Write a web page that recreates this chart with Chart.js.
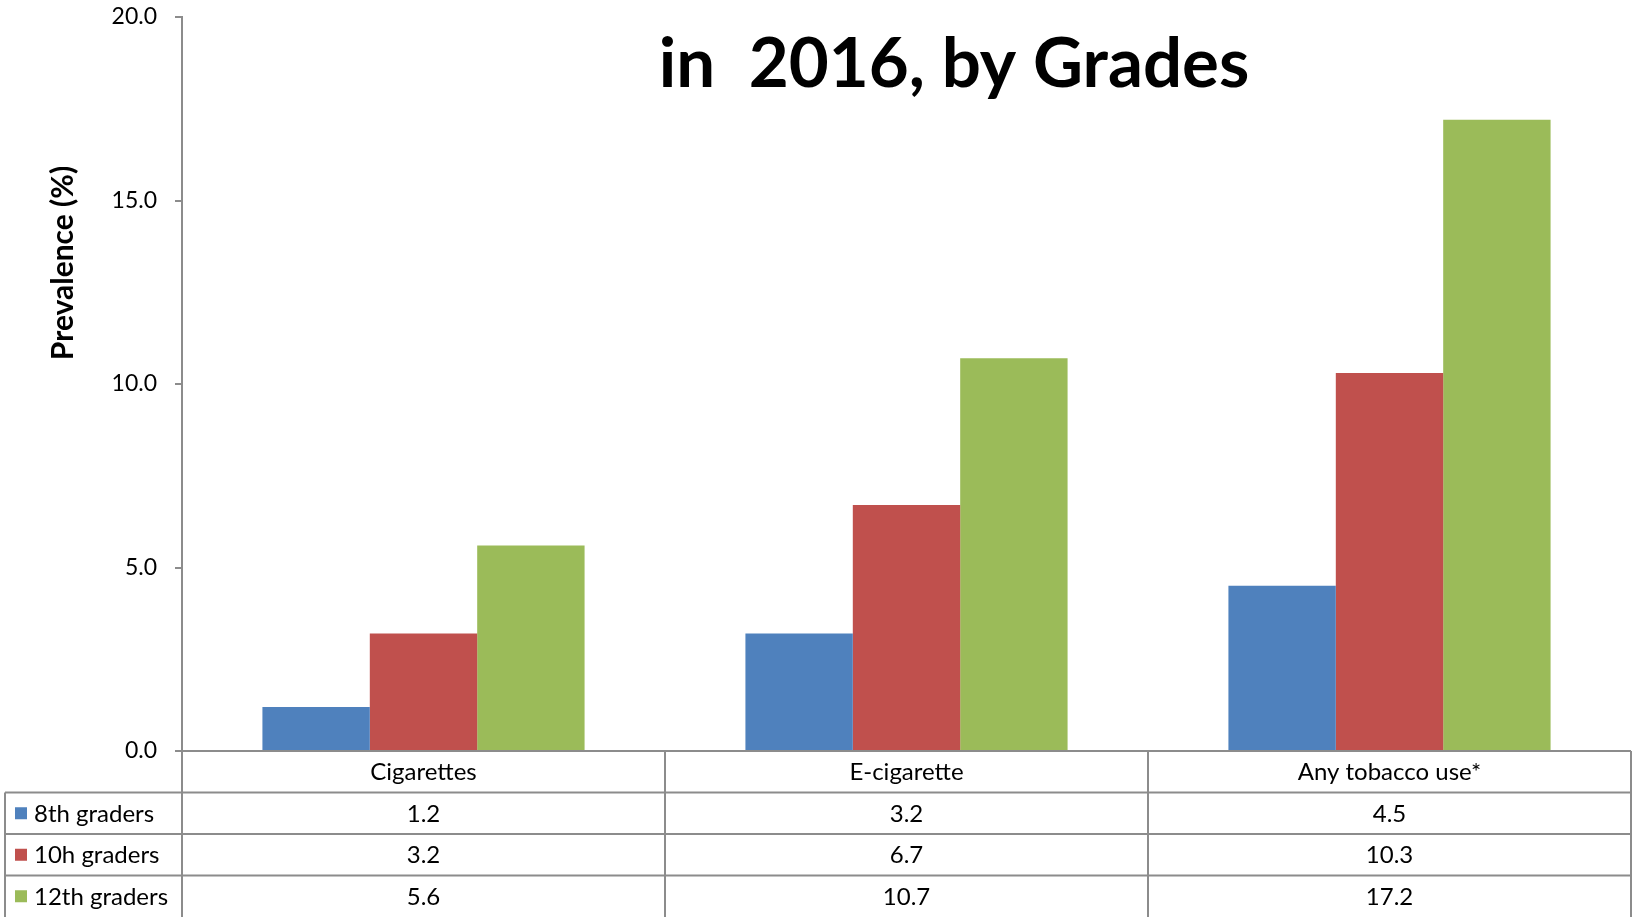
<!DOCTYPE html>
<html>
<head>
<meta charset="utf-8">
<script src="https://cdn.jsdelivr.net/npm/chart.js@4"></script>
<style>
  html, body { margin: 0; padding: 0; background: #fff; }
  #wrap { width: 1633px; height: 917px; position: relative; }
</style>
</head>
<body>
<div id="wrap"><canvas id="chart"></canvas></div>
<script>
const categories = ["Cigarettes", "E-cigarette", "Any tobacco use*"];
const seriesNames = ["8th graders", "10h graders", "12th graders"];
const grade8 = [1.2, 3.2, 4.5];
const grade10 = [3.2, 6.7, 10.3];
const grade12 = [5.6, 10.7, 17.2];
const seriesColors = ["#4F81BD", "#C0504D", "#9BBB59"];

const FONT = "Lato, 'Open Sans', sans-serif";
const LINE = "#8c8c8c";

// title + rotated axis title + data table under the plot
const extras = {
  id: "extras",
  afterDraw(chart) {
    const ctx = chart.ctx;
    const area = chart.chartArea;
    const n = categories.length;
    const colW = area.width / n;
    const rowH = 41.5;
    const top = area.bottom;
    const legendLeft = 5;
    const series = [grade8, grade10, grade12];

    ctx.save();

    // title
    ctx.fillStyle = "#000";
    ctx.font = "bold 69px " + FONT;
    ctx.textAlign = "center";
    ctx.textBaseline = "alphabetic";
    ctx.fillText("in  2016, by Grades", 954, 87);

    // axis title
    ctx.save();
    ctx.translate(63, 263);
    ctx.rotate(-Math.PI / 2);
    ctx.font = "bold 30px " + FONT;
    ctx.textBaseline = "middle";
    ctx.fillText("Prevalence (%)", 0, 0);
    ctx.restore();

    // table grid
    ctx.strokeStyle = LINE;
    ctx.lineWidth = 2;
    ctx.beginPath();
    for (let i = 0; i <= n; i++) {
      const x = area.left + i * colW;
      ctx.moveTo(x, top);
      ctx.lineTo(x, chart.height);
    }
    ctx.moveTo(area.left, top);
    ctx.lineTo(area.right, top);
    for (let r = 1; r <= 3; r++) {
      const y = top + r * rowH;
      ctx.moveTo(legendLeft, y);
      ctx.lineTo(area.right, y);
    }
    ctx.moveTo(legendLeft, top + rowH);
    ctx.lineTo(legendLeft, chart.height);
    ctx.stroke();

    // text
    ctx.font = "24px " + FONT;
    ctx.textBaseline = "middle";
    ctx.fillStyle = "#000";
    ctx.textAlign = "center";
    categories.forEach((c, i) => {
      ctx.fillText(c, area.left + (i + 0.5) * colW, top + rowH / 2 + 1);
    });
    series.forEach((vals, s) => {
      const yMid = top + (s + 1.5) * rowH + 1;
      ctx.fillStyle = seriesColors[s];
      ctx.fillRect(15, yMid - 7, 12, 12);
      ctx.fillStyle = "#000";
      ctx.textAlign = "left";
      ctx.fillText(seriesNames[s], 34, yMid);
      ctx.textAlign = "center";
      vals.forEach((v, i) => {
        ctx.fillText(v.toFixed(1), area.left + (i + 0.5) * colW, yMid);
      });
    });

    ctx.restore();
  }
};

new Chart(document.getElementById("chart"), {
  type: "bar",
  data: {
    labels: categories,
    datasets: [grade8, grade10, grade12].map((vals, s) => ({
      label: seriesNames[s],
      data: vals,
      backgroundColor: seriesColors[s],
      borderWidth: 0,
      categoryPercentage: 0.667,
      barPercentage: 1.0
    }))
  },
  options: {
    responsive: true,
    maintainAspectRatio: false,
    animation: false,
    layout: { padding: { top: 17, right: 2, bottom: 166, left: 0 } },
    plugins: {
      legend: { display: false },
      tooltip: { enabled: false }
    },
    scales: {
      x: { display: false },
      y: {
        min: 0,
        max: 20,
        afterFit: scale => {
          scale.width = 182;
          scale.paddingTop = 0;
          scale.paddingBottom = 0;
        },
        ticks: {
          stepSize: 5,
          padding: 18,
          color: "#000",
          font: { family: FONT, size: 23 },
          callback: v => Number(v).toFixed(1)
        },
        grid: { drawOnChartArea: false, drawTicks: true, tickLength: 7, color: LINE, lineWidth: 2 },
        border: { display: true, color: LINE, width: 2 }
      }
    }
  },
  plugins: [extras]
});
</script>
</body>
</html>
